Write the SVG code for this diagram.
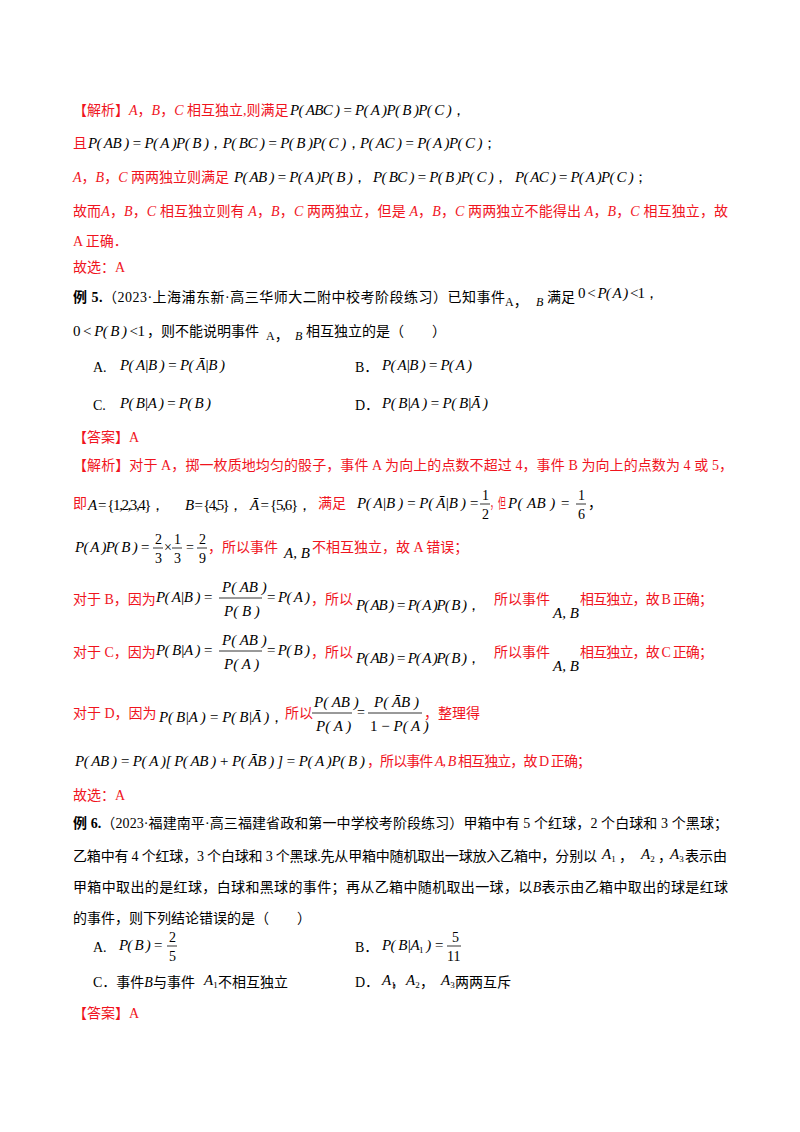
<svg xmlns="http://www.w3.org/2000/svg" width="800" height="1132" viewBox="0 0 800 1132">
<style>
text{font-family:"Liberation Serif","Noto Sans CJK SC",serif;font-size:14px;fill:#000}
.r{fill:#f0141e}
.m{font-family:"Liberation Serif",serif;font-style:italic;font-size:15px;fill:#000}
.i{font-style:italic}
.b{font-weight:bold}
.s{font-size:12px}
.f{font-family:"Liberation Serif",serif;font-size:14px}
line{stroke:#000;stroke-width:0.8}
</style>
<rect width="800" height="1132" fill="#fff"/>
<g id="analysis4">
<text x="73" y="115" class="r">【解析】<tspan class="i">A</tspan>，<tspan class="i">B</tspan>，<tspan class="i">C</tspan> 相互独立,则满足</text>
<text x="290" y="115" class="m" textLength="176" lengthAdjust="spacing">P( ABC ) = P( A )P( B )P( C )<tspan font-style="normal">，</tspan></text>
<text x="73" y="148" class="r">且</text>
<text x="88" y="148" class="m" textLength="409" lengthAdjust="spacing">P( AB ) = P( A )P( B )<tspan font-style="normal">，</tspan>P( BC ) = P( B )P( C )<tspan font-style="normal">，</tspan>P( AC ) = P( A )P( C )<tspan font-style="normal">；</tspan></text>
<text x="73" y="182" class="r"><tspan class="i">A</tspan>，<tspan class="i">B</tspan>，<tspan class="i">C</tspan> 两两独立则满足</text>
<text x="234" y="182" class="m" textLength="133" lengthAdjust="spacing">P( AB ) = P( A )P( B )<tspan font-style="normal">，</tspan></text>
<text x="373" y="182" class="m" textLength="135" lengthAdjust="spacing">P( BC ) = P( B )P( C )<tspan font-style="normal">，</tspan></text>
<text x="515" y="182" class="m" textLength="133" lengthAdjust="spacing">P( AC ) = P( A )P( C )<tspan font-style="normal">；</tspan></text>
<text x="73" y="216" class="r" textLength="655" lengthAdjust="spacing">故而<tspan class="i">A</tspan>，<tspan class="i">B</tspan>，<tspan class="i">C</tspan> 相互独立则有 <tspan class="i">A</tspan>，<tspan class="i">B</tspan>，<tspan class="i">C</tspan> 两两独立，但是 <tspan class="i">A</tspan>，<tspan class="i">B</tspan>，<tspan class="i">C</tspan> 两两独立不能得出 <tspan class="i">A</tspan>，<tspan class="i">B</tspan>，<tspan class="i">C</tspan> 相互独立，故</text>
<text x="73" y="246" class="r">A 正确．</text>
<text x="73" y="272" class="r">故选：A</text>
</g>
<g id="example5">
<text x="73" y="302" textLength="432" lengthAdjust="spacing"><tspan class="b">例 5.</tspan>（2023·上海浦东新·高三华师大二附中校考阶段练习）已知事件</text>
<text x="505" y="306" class="s">A<tspan font-size="14">，</tspan></text>
<text x="536" y="306" class="s i">B</text>
<text x="547" y="302">满足</text>
<text x="578" y="298" class="m" textLength="81" lengthAdjust="spacing"><tspan font-style="normal">0 &lt; </tspan>P( A )<tspan font-style="normal"> &lt;1，</tspan></text>
<text x="73" y="336" class="m" textLength="72" lengthAdjust="spacing"><tspan font-style="normal">0 &lt; </tspan>P( B )<tspan font-style="normal"> &lt;1</tspan></text>
<text x="147" y="336">，则不能说明事件</text>
<text x="266" y="340" class="s">A<tspan font-size="14">，</tspan></text>
<text x="295" y="340" class="s i">B</text>
<text x="306" y="336">相互独立的是（　　）</text>
<text x="93" y="372">A.</text>
<text x="120" y="370" class="m" textLength="105" lengthAdjust="spacing">P( A|B ) = P( Ā|B )</text>
<text x="355" y="372">B．</text>
<text x="382" y="370" class="m" textLength="90" lengthAdjust="spacing">P( A|B ) = P( A )</text>
<text x="93" y="410">C.</text>
<text x="120" y="408" class="m" textLength="91" lengthAdjust="spacing">P( B|A ) = P( B )</text>
<text x="355" y="410">D．</text>
<text x="382" y="408" class="m" textLength="106" lengthAdjust="spacing">P( B|A ) = P( B|Ā )</text>
<text x="73" y="442" class="r">【答案】A</text>
</g>
<g id="analysis5">
<text x="73" y="470" class="r" textLength="660" lengthAdjust="spacing">【解析】对于 A，掷一枚质地均匀的骰子，事件 A 为向上的点数不超过 4，事件 B 为向上的点数为 4 或 5，</text>
<text x="73" y="508" class="r">即</text>
<text x="88" y="510" class="m" textLength="77" lengthAdjust="spacing">A<tspan font-style="normal"> = {1,2,3,4}，</tspan></text>
<text x="185" y="510" class="m" textLength="58" lengthAdjust="spacing">B<tspan font-style="normal"> = {4,5}，</tspan></text>
<text x="250" y="510" class="m" textLength="62" lengthAdjust="spacing">Ā<tspan font-style="normal"> = {5,6}，</tspan></text>
<text x="318" y="508" class="r">满足</text>
<text x="357" y="508" class="m" textLength="122" lengthAdjust="spacing">P( A|B ) = P( Ā|B ) =</text>
<text x="482" y="500" class="f">1</text><line x1="480" y1="504" x2="490" y2="504"/><text x="482" y="519" class="f">2</text>
<text x="490" y="508" class="r" textLength="16" lengthAdjust="spacingAndGlyphs">，但</text>
<text x="508" y="508" class="m" textLength="62" lengthAdjust="spacing">P( AB ) =</text>
<text x="578" y="500" class="f">1</text><line x1="576" y1="504" x2="586" y2="504"/><text x="578" y="519" class="f">6</text>
<text x="588" y="508">，</text>
<text x="75" y="552" class="m" textLength="75" lengthAdjust="spacing">P( A )P( B ) =</text>
<text x="155" y="544" class="f">2</text><line x1="153" y1="548" x2="163" y2="548"/><text x="155" y="563" class="f">3</text>
<text x="164" y="552" class="f">×</text>
<text x="174" y="544" class="f">1</text><line x1="172" y1="548" x2="182" y2="548"/><text x="174" y="563" class="f">3</text>
<text x="186" y="552" class="f">=</text>
<text x="199" y="544" class="f">2</text><line x1="197" y1="548" x2="207" y2="548"/><text x="199" y="563" class="f">9</text>
<text x="208" y="552" class="r">，所以事件</text>
<text x="284" y="558" class="m">A, B</text>
<text x="312" y="552" class="r">不相互独立，故 A 错误；</text>

<text x="73" y="604" class="r">对于 B，因为</text>
<text x="156" y="602" class="m" textLength="57" lengthAdjust="spacing">P( A|B ) =</text>
<text x="222" y="592" class="m">P( AB )</text><line x1="219" y1="598" x2="262" y2="598"/><text x="224" y="616" class="m">P( B )</text>
<text x="267" y="602" class="m" textLength="43" lengthAdjust="spacing"><tspan font-style="normal">= </tspan>P( A )</text>
<text x="311" y="604" class="r">，所以</text>
<text x="356" y="610" class="m" textLength="125" lengthAdjust="spacing">P( AB ) = P( A )P( B )<tspan font-style="normal">，</tspan></text>
<text x="494" y="604" class="r">所以事件</text>
<text x="553" y="618" class="m">A, B</text>
<text x="580" y="604" class="r" textLength="133" lengthAdjust="spacing">相互独立，故 B 正确；</text>

<text x="73" y="657" class="r">对于 C，因为</text>
<text x="156" y="655" class="m" textLength="57" lengthAdjust="spacing">P( B|A ) =</text>
<text x="222" y="645" class="m">P( AB )</text><line x1="219" y1="651" x2="262" y2="651"/><text x="224" y="669" class="m">P( A )</text>
<text x="267" y="655" class="m" textLength="43" lengthAdjust="spacing"><tspan font-style="normal">= </tspan>P( B )</text>
<text x="311" y="657" class="r">，所以</text>
<text x="356" y="663" class="m" textLength="125" lengthAdjust="spacing">P( AB ) = P( A )P( B )<tspan font-style="normal">，</tspan></text>
<text x="494" y="657" class="r">所以事件</text>
<text x="553" y="671" class="m">A, B</text>
<text x="580" y="657" class="r" textLength="133" lengthAdjust="spacing">相互独立，故 C 正确；</text>

<text x="73" y="718" class="r">对于 D，因为</text>
<text x="159" y="722" class="m" textLength="125" lengthAdjust="spacing">P( B|A ) = P( B|Ā )<tspan font-style="normal">，</tspan></text>
<text x="285" y="718" class="r">所以</text>
<text x="314" y="707" class="m">P( AB )</text><line x1="312" y1="713" x2="352" y2="713"/><text x="316" y="731" class="m">P( A )</text>
<text x="357" y="717" class="f">=</text>
<text x="374" y="707" class="m">P( ĀB )</text><line x1="368" y1="713" x2="422" y2="713"/><text x="370" y="731" class="m"><tspan font-style="normal">1 − </tspan>P( A )</text>
<text x="424" y="718" class="r">，整理得</text>
<text x="75" y="766" class="m" textLength="290" lengthAdjust="spacing">P( AB ) = P( A )[ P( AB ) + P( ĀB ) ] = P( A )P( B )</text>
<text x="367" y="766" class="r" textLength="224" lengthAdjust="spacing">，所以事件 <tspan font-style="italic">A, B</tspan> 相互独立，故 D 正确；</text>
<text x="73" y="800" class="r">故选：A</text>
</g>
<g id="example6">
<text x="73" y="828" textLength="655" lengthAdjust="spacing"><tspan class="b">例 6.</tspan>（2023·福建南平·高三福建省政和第一中学校考阶段练习）甲箱中有 5 个红球，2 个白球和 3 个黑球；</text>
<text x="73" y="861" textLength="524" lengthAdjust="spacing">乙箱中有 4 个红球，3 个白球和 3 个黑球.先从甲箱中随机取出一球放入乙箱中，分别以</text>
<text x="602" y="859" class="m">A<tspan font-size="9" dy="3" font-style="normal">1</tspan></text>
<text x="619" y="861">，</text>
<text x="641" y="859" class="m">A<tspan font-size="9" dy="3" font-style="normal">2</tspan></text>
<text x="658" y="861">，</text>
<text x="670" y="859" class="m">A<tspan font-size="9" dy="3" font-style="normal">3</tspan></text>
<text x="685" y="861">表示由</text>
<text x="73" y="892" textLength="655" lengthAdjust="spacing">甲箱中取出的是红球，白球和黑球的事件；再从乙箱中随机取出一球，以<tspan class="i">B</tspan>表示由乙箱中取出的球是红球</text>
<text x="73" y="923">的事件，则下列结论错误的是（　　）</text>
<text x="93" y="952">A.</text>
<text x="119" y="950" class="m" textLength="44" lengthAdjust="spacing">P( B ) =</text>
<text x="169" y="942" class="f">2</text><line x1="167" y1="946" x2="177" y2="946"/><text x="169" y="961" class="f">5</text>
<text x="355" y="952">B．</text>
<text x="382" y="950" class="m" textLength="62" lengthAdjust="spacing">P( B|A<tspan font-size="9" dy="3" font-style="normal">1</tspan><tspan dy="-3"> ) =</tspan></text>
<text x="452" y="942" class="f">5</text><line x1="447" y1="946" x2="461" y2="946"/><text x="447" y="961" class="f">11</text>
<text x="93" y="987">C．事件<tspan class="i">B</tspan>与事件</text>
<text x="204" y="985" class="m">A<tspan font-size="9" dy="3" font-style="normal">1</tspan></text>
<text x="218" y="987">不相互独立</text>
<text x="355" y="987">D．</text>
<text x="382" y="985" class="m">A<tspan font-size="9" dy="3" font-style="normal">1</tspan></text>
<text x="392" y="987" textLength="10" lengthAdjust="spacingAndGlyphs">，</text>
<text x="406" y="985" class="m">A<tspan font-size="9" dy="3" font-style="normal">2</tspan></text>
<text x="420" y="987">，</text>
<text x="441" y="985" class="m">A<tspan font-size="9" dy="3" font-style="normal">3</tspan></text>
<text x="455" y="987">两两互斥</text>
<text x="73" y="1018" class="r">【答案】A</text>
</g>
</svg>
